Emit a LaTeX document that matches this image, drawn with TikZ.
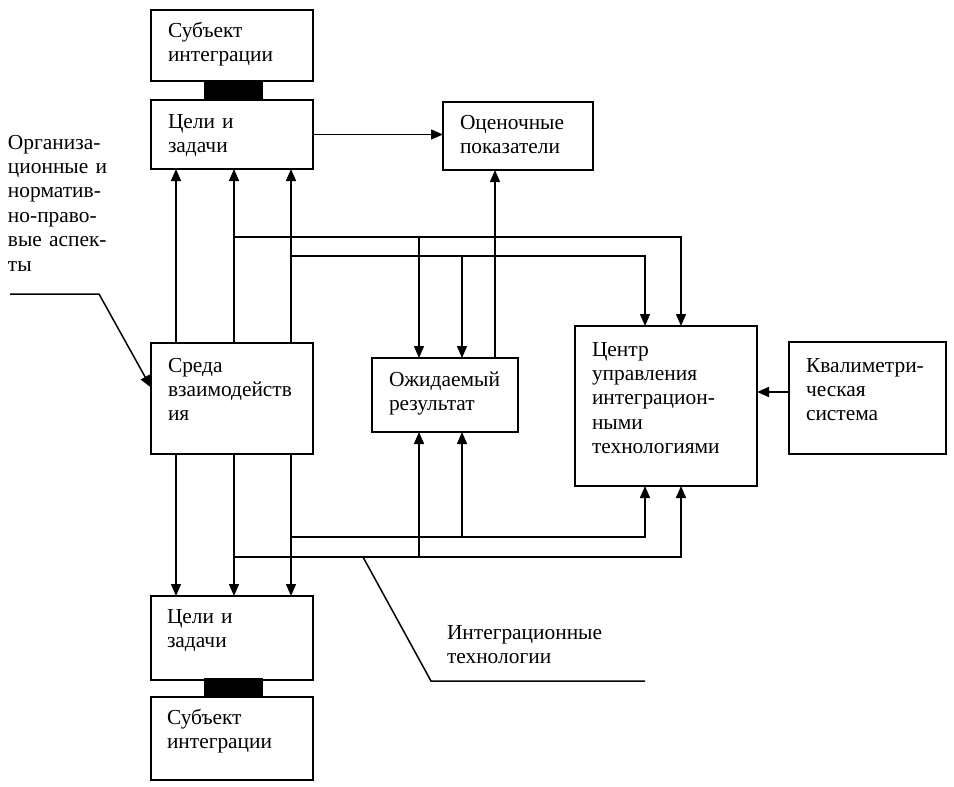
\documentclass[tikz,border=0pt]{standalone}
\usepackage{fontspec}
\setmainfont{Liberation Serif}
\usetikzlibrary{arrows.meta}
\tikzset{
  box/.style={draw, line width=1.6pt, inner sep=0pt, outer sep=0pt, anchor=north west},
  link/.style={fill=black, inner sep=0pt, outer sep=0pt, minimum width=59pt, minimum height=19pt, anchor=north},
  txt/.style={inner sep=0pt, outer sep=0pt, anchor=base west, align=left, text width=140pt,
              font=\fontsize{21.4}{24.4}\selectfont},
  con/.style={line width=1.5pt},
  arr/.style={con, -{Triangle[length=12pt,width=10pt]}}
}
\begin{document}
\begin{tikzpicture}[x=1pt,y=-1pt]
\useasboundingbox (0,0) rectangle (954,787);
% boxes
\node[box, minimum width=162pt, minimum height=71pt]  (subjT) at (151,10) {};
\node[box, minimum width=162pt, minimum height=69pt]  (celiT) at (151,100) {};
\node[box, minimum width=150pt, minimum height=68pt]  (ocen)  at (443,102) {};
\node[box, minimum width=162pt, minimum height=111pt] (sreda) at (151,343) {};
\node[box, minimum width=146pt, minimum height=74pt]  (ozh)   at (372,358) {};
\node[box, minimum width=182pt, minimum height=160pt] (centr) at (575,326) {};
\node[box, minimum width=157pt, minimum height=112pt] (kval)  at (789,342) {};
\node[box, minimum width=162pt, minimum height=84pt]  (celiB) at (151,596) {};
\node[box, minimum width=162pt, minimum height=83pt]  (subjB) at (151,697) {};
% black links
\node[link] (lnkT) at (233.5,81) {};
\node[link] (lnkB) at (233.5,678) {};
% texts
\node[txt] (tsubjT) at (168,37)  {Субъект\\интеграции};
\node[txt] (tceliT) at (168,128) {Цели и\\задачи};
\node[txt] (tocen)  at (460,129) {Оценочные\\показатели};
\node[txt] (tsreda) at (168,372) {Среда\\взаимодейств\\ия};
\node[txt] (tozh)   at (389,386) {Ожидаемый\\результат};
\node[txt] (tcentr) at (592,356) {Центр\\управления\\интеграцион-\\ными\\технологиями};
\node[txt] (tkval)  at (806,372) {Квалиметри-\\ческая\\система};
\node[txt] (tceliB) at (167,623) {Цели и\\задачи};
\node[txt] (tsubjB) at (167,724) {Субъект\\интеграции};
\node[txt, text width=180pt] (tint) at (447,639) {Интеграционные\\технологии};
\node[txt, text width=135pt] (torg) at (8,149) {Организа-\\ционные и\\норматив-\\но-право-\\вые аспек-\\ты};
% x positions
\coordinate (xa) at (176,0);
\coordinate (xb) at (234,0);
\coordinate (xc) at (291,0);
\coordinate (xd) at (419,0);
\coordinate (xe) at (462,0);
\coordinate (xf) at (495,0);
\coordinate (xg) at (645,0);
\coordinate (xh) at (681,0);
% junctions
\coordinate (j1) at (234,237);
\coordinate (j1r) at (681,237);
\coordinate (j1d) at (419,237);
\coordinate (j2) at (291,256);
\coordinate (j2r) at (645,256);
\coordinate (j2d) at (462,256);
\coordinate (j3) at (291,537);
\coordinate (j3r) at (645,537);
\coordinate (j3u) at (462,537);
\coordinate (j4) at (234,557);
\coordinate (j4r) at (681,557);
\coordinate (j4u) at (419,557);
% top goals -> indicators
\draw[arr] (celiT.east) -- (celiT.east -| ocen.west);
% environment -> goals (up and down)
\foreach \c in {xa,xb,xc}{
  \draw[arr] (sreda.north -| \c) -- (celiT.south -| \c);
  \draw[arr] (sreda.south -| \c) -- (celiB.north -| \c);
}
% upper distribution lines
\draw[arr] (j1) -- (j1r) -- (centr.north -| xh);
\draw[arr] (j1d) -- (ozh.north -| xd);
\draw[arr] (j2) -- (j2r) -- (centr.north -| xg);
\draw[arr] (j2d) -- (ozh.north -| xe);
% expected result -> indicators
\draw[arr] (ozh.north -| xf) -- (ocen.south -| xf);
% lower distribution lines
\draw[arr] (j3) -- (j3r) -- (centr.south -| xg);
\draw[arr] (j3u) -- (ozh.south -| xe);
\draw[arr] (j4) -- (j4r) -- (centr.south -| xh);
\draw[arr] (j4u) -- (ozh.south -| xd);
% qualimetric system -> centre
\draw[arr] ([yshift=6pt]kval.west) -- ([yshift=6pt]kval.west -| centr.east);
% pointer lines
\coordinate (p1) at (10,294);
\coordinate (p2) at (99,294);
\draw[arr] (p1) -- (p2) -- ([yshift=11pt]sreda.west);
\coordinate (q1) at (363,557);
\coordinate (q2) at (431,681);
\coordinate (q3) at (645,681);
\draw[con] (q1) -- (q2) -- (q3);
\end{tikzpicture}
\end{document}
